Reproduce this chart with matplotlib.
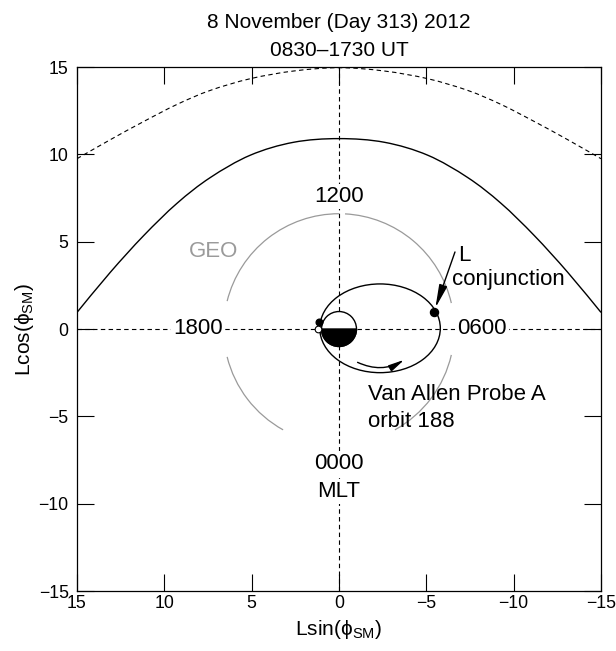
import numpy as np
import matplotlib.pyplot as plt
from matplotlib.path import Path
from matplotlib.patches import Arc, Circle, Wedge, Ellipse, FancyArrowPatch, PathPatch

plt.rcParams['font.family'] = ['Liberation Sans', 'DejaVu Sans']
plt.rcParams['mathtext.default'] = 'regular'

# Magnetopause boundaries, read at Lsin(phi) positions (dayside, symmetric)
mp_x = [15, 13.09, 11.18, 9.27, 7.37, 5.08, 2.6, 0]
mp_solid_y = [0.95, 3.25, 5.35, 7.2, 8.67, 9.95, 10.69, 10.9]
mp_dash_y = [9.75, 10.84, 11.88, 12.86, 13.66, 14.33, 14.77, 14.96]

# Geosynchronous orbit, drawn in pieces (degrees, SM frame)
geo_r = 6.6
geo_arcs = [(14, 90), (93, 167), (193, 241), (299, 346)]

# Van Allen Probe A orbit 188: perigee / apogee along the 1800-0600 line
perigee = 1.1
apogee = -5.8
orbit_height = 5.08

# Probe positions
start_x, start_y = 1.13, 0.42
end_x, end_y = 1.19, -0.02
conj_x, conj_y = -5.44, 0.99

# MLT labels
mlt_labels = ['1200', '1800', '0600', '0000']
mlt_pos = [(0, 7.56), (8.07, 0), (-8.18, 0), (0, -7.7)]

ticks = [-15, -10, -5, 0, 5, 10, 15]


def smooth_path(x, y):
    # cubic Bezier through every vertex (Catmull-Rom tangents)
    p = np.column_stack([x, y])
    q = np.vstack([p[:1], p, p[-1:]])
    verts = [p[0]]
    codes = [Path.MOVETO]
    for i in range(len(p) - 1):
        c1 = q[i+1] + (q[i+2] - q[i]) / 6
        c2 = q[i+2] - (q[i+3] - q[i+1]) / 6
        verts += [c1, c2, p[i+1]]
        codes += [Path.CURVE4] * 3
    return Path(verts, codes)


fig = plt.figure(figsize=(6.16, 6.51), dpi=100)
ax = fig.add_axes([77/616, 1-591/651, 524/616, 524/651])

# x/y axes through the Earth
ax.axhline(0, color='k', lw=0.8, ls=(0, (4, 3)), zorder=1)
ax.axvline(0, color='k', lw=0.8, ls=(0, (4, 3)), zorder=1)

# magnetopause
mx = np.array(mp_x[:-1] + [-v for v in mp_x[::-1]])
ms = np.array(mp_solid_y[:-1] + mp_solid_y[::-1])
md = np.array(mp_dash_y[:-1] + mp_dash_y[::-1])
ax.add_patch(PathPatch(smooth_path(mx, ms), fill=False, edgecolor='k', lw=1.0))
ax.add_patch(PathPatch(smooth_path(mx, md), fill=False, edgecolor='k', lw=0.8,
                       ls=(0, (4, 3))))

# GEO
for t1, t2 in geo_arcs:
    ax.add_patch(Arc((0, 0), 2*geo_r, 2*geo_r, theta1=t1, theta2=t2,
                     color='#9a9a9a', lw=0.9))
ax.text(7.18, 4.43, 'GEO', color='#9a9a9a', fontsize=16, ha='center', va='center')

# Earth, night side shaded
ax.add_patch(Circle((0, 0), 1.0, facecolor='white', edgecolor='k', lw=1.0, zorder=3))
ax.add_patch(Wedge((0, 0), 1.0, 180, 360, facecolor='k', edgecolor='k', lw=1.0, zorder=3))

# orbit
ax.add_patch(Ellipse(((perigee + apogee)/2, 0.04), perigee - apogee, orbit_height,
                     fill=False, edgecolor='k', lw=1.0, zorder=2))
ax.add_patch(FancyArrowPatch((-0.92, -1.84), (-3.87, -1.68),
                             connectionstyle='arc3,rad=0.29',
                             arrowstyle='-|>,head_length=0.95,head_width=0.2',
                             mutation_scale=10, color='k', lw=1.0, zorder=2))

ax.plot(start_x, start_y, 'o', ms=4.8, mfc='k', mec='k', zorder=4)
ax.plot(end_x, end_y, 'o', ms=4.8, mfc='white', mec='k', mew=0.8, zorder=4)
ax.plot(conj_x, conj_y, 'o', ms=5.8, mfc='k', mec='k', zorder=4)

# L conjunction label and arrow
ax.text(-6.81, 4.18, 'L', fontsize=16, ha='left', va='center')
ax.text(-6.45, 2.81, 'conjunction', fontsize=16, ha='left', va='center')
ax.add_patch(FancyArrowPatch((-6.64, 4.41), (conj_x, conj_y),
                             arrowstyle='-|>,head_length=1.4,head_width=0.25',
                             mutation_scale=10, color='k', lw=1.0,
                             shrinkA=0, shrinkB=3, zorder=4))

ax.text(-1.68, -3.77, 'Van Allen Probe A', fontsize=16, ha='left', va='center')
ax.text(-1.68, -5.3, 'orbit 188', fontsize=16, ha='left', va='center')

box = dict(facecolor='white', edgecolor='none', pad=1.5)
for lab, (x, y) in zip(mlt_labels, mlt_pos):
    ax.text(x, y, lab, fontsize=16, ha='center', va='center', bbox=box, zorder=5)
ax.text(0, -9.32, 'MLT', fontsize=16, ha='center', va='center', bbox=box, zorder=5)

ax.set_xlim(15, -15)
ax.set_ylim(-15, 15)
ax.set_xticks(ticks)
ax.set_yticks(ticks)
ax.tick_params(direction='in', length=12, width=0.8, top=True, right=True,
               labelsize=12.7)
ax.tick_params(axis='x', pad=3)
ax.tick_params(axis='y', pad=6)
for s in ax.spines.values():
    s.set_linewidth(0.9)

ax.set_xlabel('Lsin(ϕ$_{SM}$)', fontsize=15, labelpad=4)
ax.set_ylabel('Lcos(ϕ$_{SM}$)', fontsize=15, labelpad=2)

cx = (77 + 262) / 616
fig.text(cx, 1 - 22/651, '8 November (Day 313) 2012', fontsize=15, ha='center', va='center')
fig.text(cx, 1 - 50/651, '0830–1730 UT', fontsize=15, ha='center', va='center')

fig.savefig('out.png', dpi=100)
